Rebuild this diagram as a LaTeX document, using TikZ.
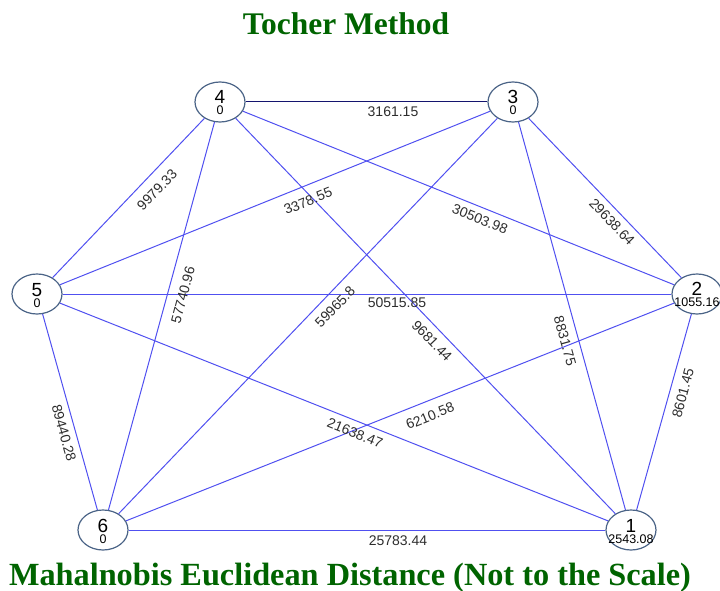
\documentclass[tikz,border=0pt]{standalone}
\usepackage{fontspec}
\setmainfont{Liberation Sans}
\newfontfamily\titlefont{Liberation Serif}
\usetikzlibrary{shapes.geometric}
\definecolor{edgeblue}{RGB}{80,80,240}
\definecolor{edgedark}{RGB}{20,20,110}
\definecolor{vborder}{RGB}{75,100,135}
\definecolor{titlegreen}{RGB}{0,100,0}
\definecolor{lblgray}{RGB}{45,45,45}
\begin{document}
\begin{tikzpicture}[x=1pt,y=-1pt,
  vert/.style={ellipse, draw=vborder, line width=1.2pt, fill=white, minimum width=50pt, minimum height=40pt, inner sep=0pt},
  vnum/.style={anchor=base, font=\fontsize{19}{19}\selectfont, text=black, inner sep=0pt},
  vsub/.style={anchor=base, font=\fontsize{12.5}{12.5}\selectfont, text=black, inner sep=0pt},
  edgeline/.style={draw=edgeblue, line width=1pt},
  darkline/.style={draw=edgedark, line width=1pt},
  elbl/.style={font=\fontsize{14}{14}\selectfont, text=lblgray, inner sep=0pt},
  ttl/.style={font=\titlefont\bfseries\fontsize{31.5}{31.5}\selectfont, text=titlegreen, anchor=base, inner sep=0pt}
]
\useasboundingbox (0,0) rectangle (720,591);

% vertices
\node[vert] (n4) at (220,102) {};
\node[vert] (n3) at (513,102) {};
\node[vert] (n5) at (37,294) {};
\node[vert] (n2) at (697,294) {};
\node[vert] (n6) at (103,530) {};
\node[vert] (n1) at (631,530) {};

% edges
\draw[darkline] (n4) -- (n3);
\draw[edgeline] (n4) -- (n5);
\draw[edgeline] (n4) -- (n6);
\draw[edgeline] (n4) -- (n2);
\draw[edgeline] (n4) -- (n1);
\draw[edgeline] (n3) -- (n5);
\draw[edgeline] (n3) -- (n6);
\draw[edgeline] (n3) -- (n2);
\draw[edgeline] (n3) -- (n1);
\draw[edgeline] (n5) -- (n2);
\draw[edgeline] (n5) -- (n6);
\draw[edgeline] (n5) -- (n1);
\draw[edgeline] (n2) -- (n6);
\draw[edgeline] (n2) -- (n1);
\draw[edgeline] (n6) -- (n1);

% vertex texts
\node[vnum] (t4) at ([yshift=-2pt]n4.center) {4};
\node[vsub] (s4) at ([yshift=-13pt]n4.center) {0};
\node[vnum] (t3) at ([yshift=-2pt]n3.center) {3};
\node[vsub] (s3) at ([yshift=-13pt]n3.center) {0};
\node[vnum] (t5) at ([yshift=-2pt]n5.center) {5};
\node[vsub] (s5) at ([yshift=-13pt]n5.center) {0};
\node[vnum] (t2) at ([yshift=-1pt]n2.center) {2};
\node[vsub] (s2) at ([yshift=-12pt]n2.center) {1055.16};
\node[vnum] (t6) at ([yshift=-2pt]n6.center) {6};
\node[vsub] (s6) at ([yshift=-13pt]n6.center) {0};
\node[vnum] (t1) at ([yshift=-2pt]n1.center) {1};
\node[vsub] (s1) at ([yshift=-13pt]n1.center) {2543.08};

% edge labels
\node[elbl] (l43) at (393,112) {3161.15};
\node[elbl, rotate=46] (l45) at (157,190) {9979.33};
\node[elbl, rotate=75] (l46) at (183,295) {57740.96};
\node[elbl, rotate=-22] (l42) at (480,219) {30503.98};
\node[elbl, rotate=-46] (l41) at (432,341) {9681.44};
\node[elbl, rotate=22] (l35) at (308,201) {3378.55};
\node[elbl, rotate=46] (l36) at (335,307) {59965.8};
\node[elbl, rotate=-46] (l32) at (612,222) {29638.64};
\node[elbl, rotate=-74.5] (l31) at (565,341) {8831.75};
\node[elbl] (l52) at (397,303) {50515.85};
\node[elbl, rotate=-74.5] (l56) at (64,433) {89440.28};
\node[elbl, rotate=-22] (l51) at (355,433) {21638.47};
\node[elbl, rotate=22] (l26) at (430,416) {6210.58};
\node[elbl, rotate=75] (l21) at (683,393) {8601.45};
\node[elbl] (l61) at (398,541) {25783.44};

% titles
\node[ttl] (title) at (346,35) {Tocher Method};
\node[ttl, font=\titlefont\bfseries\fontsize{32.3}{32.3}\selectfont] (subtitle) at (350,585) {Mahalnobis Euclidean Distance (Not to the Scale)};
\end{tikzpicture}
\end{document}
